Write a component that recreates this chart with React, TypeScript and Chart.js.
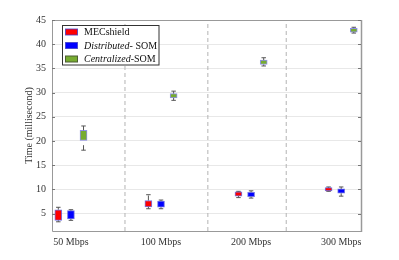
import React, { useEffect, useRef } from 'react';
import { Chart, registerables } from 'chart.js';

Chart.register(...registerables);

// ---- data ----
const categories = ['50 Mbps', '100 Mbps', '200 Mbps', '300 Mbps'];
const categoryPositions = [1, 2, 3, 4];
// each entry: [lower whisker, q1, q3, upper whisker]
const mecshieldStats = [
  [3.3, 3.6, 5.8, 6.3],
  [6.0, 6.4, 7.7, 8.9],
  [8.3, 8.6, 9.5, 9.6],
  [9.6, 9.7, 10.35, 10.5],
];
const distributedSomStats = [
  [3.6, 3.9, 5.6, 5.8],
  [6.0, 6.3, 7.6, 7.8],
  [8.2, 8.5, 9.4, 9.7],
  [8.6, 9.2, 10.1, 10.5],
];
const centralizedSomStats = [
  [18.1, 20.1, 22.2, 23.1],
  [28.4, 28.9, 29.8, 30.3],
  [35.5, 35.8, 36.7, 37.2],
  [42.3, 42.5, 43.3, 43.5],
];
const yTickValues = [5, 10, 15, 20, 25, 30, 35, 40, 45];
const separatorPositions = [1.6, 2.52, 3.39];
const Y_MIN = 1.4;
const Y_MAX = 45;
const X_MIN = 0.79;
const X_MAX = 4.22;

const FONT = '"Liberation Serif", "Times New Roman", serif';

const series = [
  { legend: [{ t: 'MECshield', i: false }], color: '#ff0000', edge: 'rgba(70,70,220,0.75)', stats: mecshieldStats, offset: -0.14 },
  { legend: [{ t: 'Distributed-', i: true }, { t: ' SOM', i: false }], color: '#0000ff', edge: 'rgba(70,70,220,0.75)', stats: distributedSomStats, offset: 0 },
  { legend: [{ t: 'Centralized', i: true }, { t: '-SOM', i: false }], color: '#77ac30', edge: 'rgba(70,70,220,0.6)', stats: centralizedSomStats, offset: 0.14 },
];

const CAP = 0.025;

function whiskerPoints(stats: number[][], offset: number) {
  const pts: { x: number; y: number | null }[] = [];
  stats.forEach((s, i) => {
    const x = categoryPositions[i] + offset;
    pts.push({ x, y: s[0] }, { x, y: s[1] }, { x, y: null });
    pts.push({ x, y: s[2] }, { x, y: s[3] }, { x, y: null });
    pts.push({ x: x - CAP, y: s[3] }, { x: x + CAP, y: s[3] }, { x, y: null });
    pts.push({ x: x - CAP, y: s[0] }, { x: x + CAP, y: s[0] }, { x, y: null });
  });
  return pts;
}

function separatorPoints() {
  const pts: { x: number; y: number | null }[] = [];
  separatorPositions.forEach((x) => {
    pts.push({ x, y: Y_MIN }, { x, y: Y_MAX }, { x, y: null });
  });
  return pts;
}

const framePlugin = {
  id: 'frameAndLegend',
  afterDraw(chart: any) {
    const { ctx, chartArea } = chart;
    const { left, right, top, bottom } = chartArea;
    const yScale = chart.scales.y;
    ctx.save();
    // frame
    ctx.strokeStyle = '#999';
    ctx.lineWidth = 1;
    ctx.beginPath();
    ctx.moveTo(left + 0.5, bottom + 0.5);
    ctx.lineTo(left + 0.5, top + 0.5);
    ctx.lineTo(right + 0.5, top + 0.5);
    ctx.moveTo(left + 0.5, bottom + 0.5);
    ctx.lineTo(right + 0.5, bottom + 0.5);
    ctx.stroke();
    ctx.lineWidth = 1.5;
    ctx.beginPath();
    ctx.moveTo(right + 0.5, top);
    ctx.lineTo(right + 0.5, bottom + 1);
    ctx.stroke();
    // inward ticks
    ctx.lineWidth = 1;
    ctx.strokeStyle = '#777';
    ctx.beginPath();
    yTickValues.forEach((v) => {
      const y = Math.round(yScale.getPixelForValue(v)) + 0.5;
      ctx.moveTo(left, y);
      ctx.lineTo(left + 3, y);
      ctx.moveTo(right, y);
      ctx.lineTo(right - 3, y);
    });
    ctx.stroke();

    // legend
    const lx = left + 10.5;
    const ly = top + 5.5;
    const lw = 96.5;
    const lh = 39.5;
    ctx.fillStyle = '#ffffff';
    ctx.fillRect(lx, ly, lw, lh);
    ctx.strokeStyle = '#333';
    ctx.lineWidth = 1;
    ctx.strokeRect(lx, ly, lw, lh);
    series.forEach((s, i) => {
      const cy = ly + 6.5 + i * 13.5;
      ctx.fillStyle = s.color;
      ctx.fillRect(lx + 3, cy - 3, 12, 6);
      ctx.strokeStyle = i === 2 ? '#4d5d33' : 'rgba(60,60,200,0.8)';
      ctx.strokeRect(lx + 3, cy - 3, 12, 6);
      let tx = lx + 21.5;
      ctx.fillStyle = '#111';
      ctx.textBaseline = 'middle';
      ctx.textAlign = 'left';
      s.legend.forEach((part) => {
        ctx.font = `${part.i ? 'italic ' : ''}10px ${FONT}`;
        ctx.fillText(part.t, tx, cy + 0.5);
        tx += ctx.measureText(part.t).width;
      });
    });
    ctx.restore();
  },
};

export default function App() {
  const canvasRef = useRef<HTMLCanvasElement | null>(null);

  useEffect(() => {
    document.body.style.margin = '0';
    const canvas = canvasRef.current;
    if (!canvas) return;

    const datasets: any[] = [];
    series.forEach((s, si) => {
      datasets.push({
        type: 'bar',
        label: s.legend.map((p) => p.t).join(''),
        data: s.stats.map((st, i) => ({ x: categoryPositions[i] + s.offset, y: [st[1], st[2]] })),
        backgroundColor: s.color,
        borderColor: s.edge,
        borderWidth: 1,
        borderSkipped: false,
        barThickness: 7,
        grouped: false,
        order: 0,
      });
      datasets.push({
        type: 'line',
        label: 'whisker' + si,
        data: whiskerPoints(s.stats, s.offset),
        borderColor: '#555',
        borderWidth: 1,
        borderDash: [5, 5],
        pointRadius: 0,
        spanGaps: false,
        fill: false,
        order: 1,
      });
    });
    datasets.push({
      type: 'line',
      label: 'separators',
      data: separatorPoints(),
      borderColor: '#b3b3b3',
      borderWidth: 1,
      borderDash: [4, 3],
      pointRadius: 0,
      spanGaps: false,
      fill: false,
      order: 2,
    });

    const chart = new Chart(canvas, {
      type: 'bar',
      data: { datasets },
      options: {
        animation: false,
        responsive: true,
        maintainAspectRatio: false,
        layout: { padding: { top: 20, right: 38, left: 0, bottom: 0 } },
        plugins: {
          legend: { display: false },
          tooltip: { enabled: false },
        },
        scales: {
          x: {
            type: 'linear',
            min: X_MIN,
            max: X_MAX,
            offset: false,
            grid: { display: false, drawTicks: false },
            border: { display: false },
            afterBuildTicks: (scale: any) => {
              scale.ticks = categoryPositions.map((v) => ({ value: v }));
            },
            afterFit: (scale: any) => {
              scale.height = 29;
            },
            ticks: {
              autoSkip: false,
              maxRotation: 0,
              padding: 5,
              color: '#333',
              font: { family: FONT, size: 10 },
              callback: (v: any) => {
                const idx = categoryPositions.indexOf(Number(v));
                return idx >= 0 ? categories[idx] : '';
              },
            },
          },
          y: {
            type: 'linear',
            min: Y_MIN,
            max: Y_MAX,
            grid: { color: '#e8e8e8', lineWidth: 1, drawTicks: false },
            border: { display: false },
            afterBuildTicks: (scale: any) => {
              scale.ticks = yTickValues.map((v) => ({ value: v }));
            },
            afterFit: (scale: any) => {
              scale.width = 52;
            },
            ticks: {
              padding: 6,
              color: '#333',
              font: { family: FONT, size: 10 },
              callback: (v: any) => String(v),
            },
            title: {
              display: true,
              text: 'Time (millisecond)',
              color: '#333',
              font: { family: FONT, size: 10 },
              padding: { top: 23, bottom: 0 },
            },
          },
        },
      },
      plugins: [framePlugin],
    });

    return () => {
      chart.destroy();
    };
  }, []);

  return (
    <div style={{ position: 'relative', width: 399, height: 260 }}>
      <canvas ref={canvasRef} />
    </div>
  );
}
